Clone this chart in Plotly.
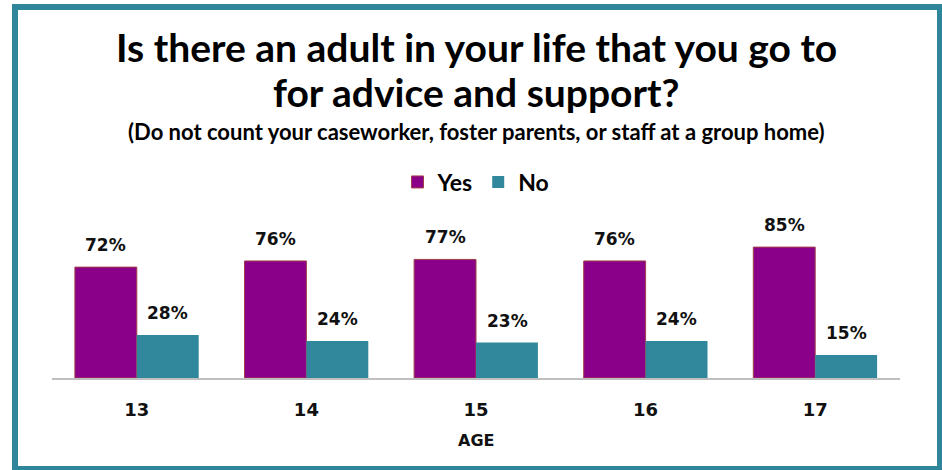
import plotly.graph_objects as go

ages = ["13", "14", "15", "16", "17"]
yes_vals = [72, 76, 77, 76, 85]
no_vals = [28, 24, 23, 24, 15]
series_names = ["Yes", "No"]

title_line1 = "Is there an adult in your life that you go to"
title_line2 = "for advice and support?"
subtitle = "(Do not count your caseworker, foster parents, or staff at a group home)"
x_title = "AGE"

W, H = 942, 470
L, R, T, B = 52, 42, 224, 92
PW, PH = W - L - R, H - T - B

FONT = "Lato, Carlito, Liberation Sans, sans-serif"
LBLFONT = "DejaVu Sans, Verdana, sans-serif"

PURPLE = "#8A0088"
TEAL = "#31879C"


def px(x):
    return (x - L) / PW


def py(y):
    return (H - B - y) / PH


fig = go.Figure()
fig.add_trace(go.Bar(
    x=ages, y=yes_vals, name=series_names[0],
    marker=dict(color=PURPLE, line=dict(color="#A0404A", width=1)),
))
fig.add_trace(go.Bar(
    x=ages, y=no_vals, name=series_names[1],
    marker=dict(color=TEAL, line=dict(width=0)),
))

annotations = [
    dict(text=title_line1, x=0.5, y=py(47), xref="paper", yref="paper",
         showarrow=False, font=dict(family=FONT, size=39, color="#000", weight="bold"),
         xanchor="center", yanchor="middle"),
    dict(text=title_line2, x=0.5, y=py(92), xref="paper", yref="paper",
         showarrow=False, font=dict(family=FONT, size=39, color="#000", weight="bold"),
         xanchor="center", yanchor="middle"),
    dict(text=subtitle, x=0.5, y=py(131), xref="paper", yref="paper",
         showarrow=False, font=dict(family=FONT, size=22, color="#000", weight="bold"),
         xanchor="center", yanchor="middle"),
    dict(text=x_title, x=0.5, y=py(440), xref="paper", yref="paper",
         showarrow=False, font=dict(family=LBLFONT, size=16, color="#111", weight="bold"),
         xanchor="center", yanchor="middle"),
]

# data labels: x given as category index on the category axis
for vals, shift in ((yes_vals, -31), (no_vals, 31)):
    for i, v in enumerate(vals):
        annotations.append(dict(
            text=f"{v}%", x=i, y=v, xref="x", yref="y", showarrow=False,
            xshift=shift, yshift=22, xanchor="center", yanchor="middle",
            font=dict(family=LBLFONT, size=17, color="#111", weight="bold"),
        ))

shapes = [
    dict(type="rect", xref="paper", yref="paper", x0=px(15), x1=px(940), y0=py(7), y1=py(469),
         line=dict(color="#2F8599", width=6), fillcolor="rgba(0,0,0,0)", layer="above"),
]

fig.update_layout(
    width=W, height=H,
    margin=dict(l=L, r=R, t=T, b=B, pad=0),
    paper_bgcolor="white", plot_bgcolor="white",
    barmode="group", bargap=0.27, bargroupgap=0,
    showlegend=True,
    legend=dict(orientation="h", x=0.5, xanchor="center", y=py(182), yanchor="middle",
                font=dict(family=FONT, size=23, color="#000", weight="bold"),
                traceorder="normal"),
    xaxis=dict(type="category", showline=True, linecolor="#BFBFBF", linewidth=2, ticks="",
               showgrid=False,
               tickfont=dict(family=LBLFONT, size=18, color="#111", weight="bold"),
               ticklabelstandoff=14),
    yaxis=dict(range=[0, 100], visible=False, showgrid=False, zeroline=False),
    annotations=annotations, shapes=shapes,
    font=dict(family=FONT),
)

fig.write_html(
    "out.html",
    config={"displayModeBar": False},
    post_script="document.body.style.margin='0';document.body.style.overflow='hidden';",
)
